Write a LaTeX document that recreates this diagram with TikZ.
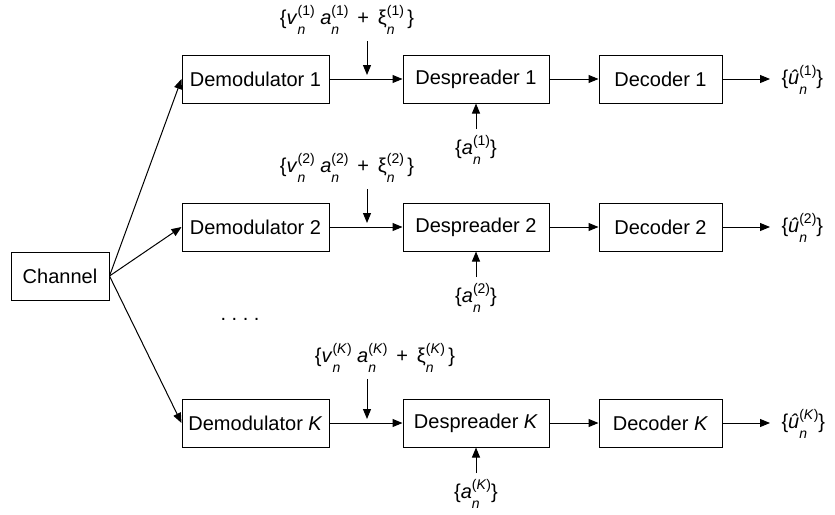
\documentclass[tikz,border=0pt]{standalone}
\usepackage{fontspec}
\setmainfont{Liberation Sans}
\usetikzlibrary{arrows.meta,positioning}

% symbol with sub- and superscript stacked
\newcommand{\seqsym}[3]{#1\rlap{\raisebox{-5pt}{\scriptsize\textit{#2}}}\raisebox{4.5pt}{\scriptsize #3}}

\begin{document}
\begin{tikzpicture}[x=0.5pt, y=-0.5pt, line width=0.5pt,
    >={Triangle[length=5pt,width=4pt]},
    block/.style={draw, line width=0.5pt, minimum height=24pt, inner sep=2pt},
    lab/.style={inner sep=0pt}]

    % Fix picture size
    \useasboundingbox (0,0) rectangle (835,514);

    % Channel
    \node[block, minimum width=49pt] (ch) at (60,276) {Channel};

    % One receiver branch per user
    \foreach \r/\y/\k/\nx/\ny in {1/79/1/347/20, 2/227/2/347/168, K/423/\textit{K}/385/358} {
        \node[block, minimum width=73.5pt] (dm\r) at (255.5,\y) {Demodulator \k};
        \node[block, minimum width=73pt] (ds\r) at (476,\y) {Despreader \k};
        \node[block, minimum width=61.5pt] (dc\r) at (660.5,\y) {Decoder \k};

        \draw[->] (ch.east) -- (dm\r.west);
        \draw[->] (dm\r) -- (ds\r);
        \draw[->] (ds\r) -- (dc\r);

        % Output sequence
        \coordinate (out\r) at (770,\y);
        \draw[->] (dc\r) -- (out\r);
        \node[lab, anchor=base west] (u\r) at (781,\y+5) {\{\seqsym{\textit{û}}{n}{(\k)}\}};

        % Added term
        \node[lab] (nz\r) at (\nx,\ny) {\{\seqsym{\textit{v}}{n}{(\k)}\ \seqsym{\textit{a}}{n}{(\k)} \,+\, \seqsym{ξ}{n}{(\k)}\,\}};
        \coordinate (j\r) at (367,\y);
        \draw[->, shorten <=3pt, shorten >=2pt] (nz\r.south -| j\r) -- (j\r);

        % Spreading code
        \coordinate (in\r) at (476,\y+50);
        \node[lab, below=3pt of in\r] (a\r) {\{\seqsym{\textit{a}}{n}{(\k)}\}};
        \draw[->] (in\r) -- (ds\r);
    }

    % Remaining branches
    \node[lab, anchor=base] (dots) at (240,320) {.\ .\ .\ .};

\end{tikzpicture}
\end{document}
